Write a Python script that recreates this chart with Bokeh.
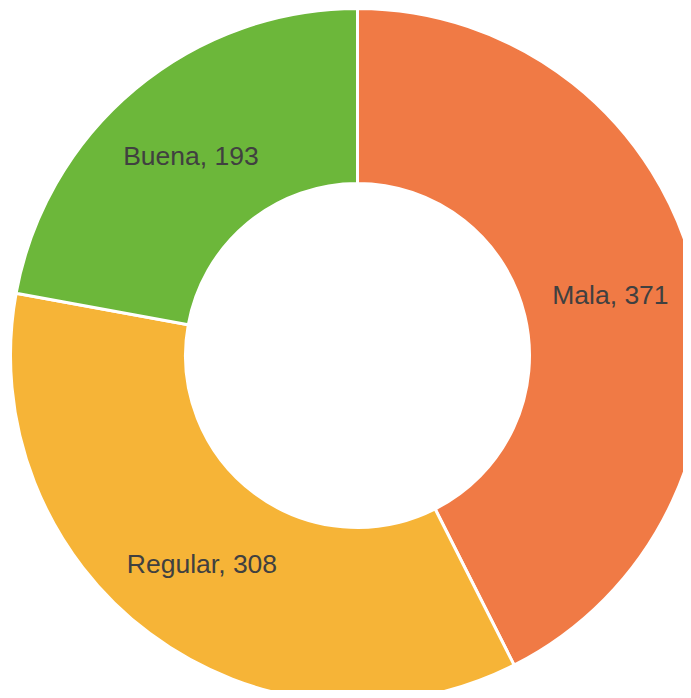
import numpy as np
from bokeh.plotting import figure
from bokeh.models import ColumnDataSource, Range1d
from bokeh.core.properties import value
from bokeh.embed import file_html
from bokeh.resources import INLINE

categories = ["Mala", "Regular", "Buena"]
counts = [371, 308, 193]
colors = ["#F07A45", "#F6B437", "#6CB73A"]

W, H = 683, 690
cx, cy = 357, H - 355
r_out, r_in, r_lab = 347, 172, 260

vals = np.array(counts, dtype=float)
fr = vals / vals.sum()
ends_cum = np.cumsum(fr)
starts_cum = ends_cum - fr
start = np.pi / 2 - 2 * np.pi * starts_cum
end = np.pi / 2 - 2 * np.pi * ends_cum
mid = (start + end) / 2

src = ColumnDataSource(dict(
    start=start, end=end, color=colors,
    lx=cx + r_lab * np.cos(mid), ly=cy + r_lab * np.sin(mid),
    label=[f"{c}, {v}" for c, v in zip(categories, counts)],
))

p = figure(width=W, height=H, output_backend="svg", toolbar_location=None,
           x_range=Range1d(0, W), y_range=Range1d(0, H), min_border=0)
p.annular_wedge(x=cx, y=cy, inner_radius=r_in, outer_radius=r_out,
                start_angle="start", end_angle="end", direction="clock",
                fill_color="color", line_color="white", line_width=3, source=src)
p.text(x="lx", y="ly", text="label", source=src, text_align="center",
       text_baseline="middle", text_font=value("Liberation Sans"),
       text_font_size="26.5px", text_color="#404040")
p.axis.visible = False
p.grid.visible = False
p.outline_line_color = None
p.background_fill_color = "white"
p.border_fill_color = "white"

open("out.html", "w").write(file_html(p, INLINE))
